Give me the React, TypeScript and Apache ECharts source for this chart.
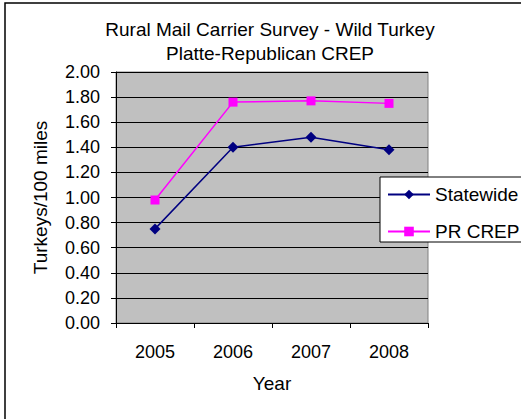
import React, { useEffect, useRef } from "react";
import * as echarts from "echarts";

const years = ["2005", "2006", "2007", "2008"];
const statewide = [0.75, 1.4, 1.48, 1.38];
const prCrep = [0.98, 1.76, 1.77, 1.75];
const titleLines = ["Rural Mail Carrier Survey - Wild Turkey", "Platte-Republican CREP"];

const FONT = "Liberation Sans, Arial, sans-serif";

export default function App() {
  const ref = useRef<HTMLDivElement>(null);

  useEffect(() => {
    if (!ref.current) return;
    const chart = echarts.init(ref.current, null, { renderer: "svg" });
    chart.setOption({
      animation: false,
      backgroundColor: "#ffffff",
      textStyle: { fontFamily: FONT },
      title: {
        text: titleLines.join("\n"),
        left: 265,
        top: 12,
        textAlign: "center",
        textStyle: {
          fontFamily: FONT,
          fontSize: 19,
          fontWeight: "normal",
          color: "#000",
          lineHeight: 24,
        },
      },
      graphic: [
        {
          type: "rect",
          shape: { x: 5, y: 3, width: 530, height: 430 },
          style: { fill: "none", stroke: "#000", lineWidth: 1.5 },
          z: 100,
        },
      ],
      legend: {
        orient: "vertical",
        left: 380,
        top: 177,
        padding: [8, 40, 1, 7],
        itemGap: 18,
        itemWidth: 42,
        itemHeight: 12,
        backgroundColor: "#ffffff",
        borderColor: "#000",
        borderWidth: 1,
        textStyle: { fontFamily: FONT, fontSize: 19, color: "#000" },
        data: ["Statewide", "PR CREP"],
      },
      grid: {
        left: 116,
        top: 72,
        width: 312,
        height: 251,
        show: true,
        backgroundColor: "#c0c0c0",
        borderColor: "#808080",
        borderWidth: 1,
        containLabel: false,
      },
      xAxis: {
        type: "category",
        data: years,
        boundaryGap: true,
        name: "Year",
        nameLocation: "middle",
        nameGap: 51,
        nameTextStyle: { fontFamily: FONT, fontSize: 19, color: "#000" },
        axisLine: { lineStyle: { color: "#000", width: 1 } },
        axisTick: { show: true, inside: false, length: 5, lineStyle: { color: "#000" } },
        axisLabel: { fontFamily: FONT, fontSize: 18, color: "#000", margin: 20 },
        splitLine: { show: false },
      },
      yAxis: {
        type: "value",
        min: 0,
        max: 2,
        interval: 0.2,
        name: "Turkeys/100 miles",
        nameLocation: "middle",
        nameGap: 66,
        nameRotate: 90,
        nameTextStyle: { fontFamily: FONT, fontSize: 19, color: "#000" },
        axisLine: { show: true, lineStyle: { color: "#000", width: 1 } },
        axisTick: { show: true, inside: false, length: 5, lineStyle: { color: "#000" } },
        axisLabel: {
          fontFamily: FONT,
          fontSize: 18,
          color: "#000",
          margin: 16,
          formatter: (v: number) => v.toFixed(2),
        },
        splitLine: { show: true, lineStyle: { color: "#000", width: 1 } },
      },
      series: [
        {
          name: "Statewide",
          type: "line",
          data: statewide,
          symbol: "diamond",
          symbolSize: 11,
          color: "#000080",
          lineStyle: { color: "#000080", width: 1.5 },
          itemStyle: { color: "#000080" },
          z: 3,
        },
        {
          name: "PR CREP",
          type: "line",
          data: prCrep,
          symbol: "rect",
          symbolSize: 9,
          color: "#ff00ff",
          lineStyle: { color: "#ff00ff", width: 1.5 },
          itemStyle: { color: "#ff00ff" },
          z: 3,
        },
      ],
    });
    return () => chart.dispose();
  }, []);

  return (
    <div
      ref={ref}
      style={{ position: "fixed", left: 0, top: 0, width: 521, height: 419 }}
    />
  );
}
